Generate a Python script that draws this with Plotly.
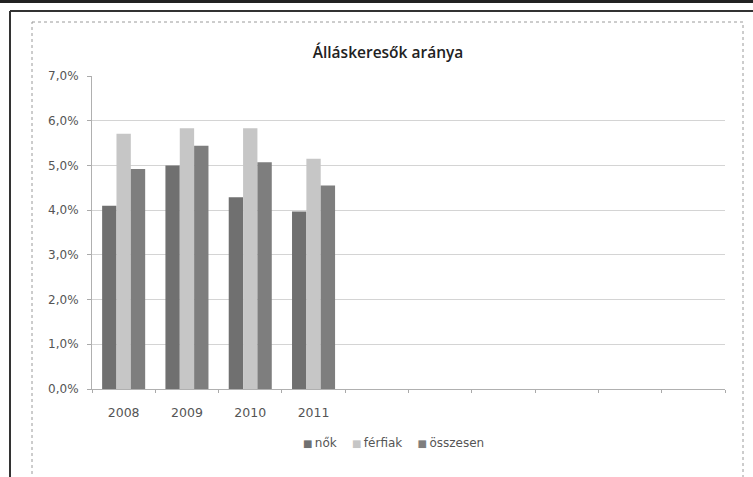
import plotly.graph_objects as go

# ---- data ----
years = ["2008", "2009", "2010", "2011"]
empty_slots = [" " * (i + 1) for i in range(6)]   # unused category slots on the axis
categories = years + empty_slots
nok = [0.0410, 0.0500, 0.0429, 0.0397]
ferfiak = [0.0571, 0.0583, 0.0583, 0.0515]
osszesen = [0.0492, 0.0544, 0.0507, 0.0455]
series_names = ["nők", "férfiak", "összesen"]
series_colors = ["#707070", "#c6c6c6", "#7e7e7e"]
y_ticks = [0, 0.01, 0.02, 0.03, 0.04, 0.05, 0.06, 0.07]

W, H = 753, 477
L, R, T, B = 92, 725, 76, 389  # plot area in pixels


def px(x):
    return (x - L) / (R - L)


def py(y):
    return (B - y) / (B - T)


fig = go.Figure()
for name, vals, col in zip(series_names, [nok, ferfiak, osszesen], series_colors):
    fig.add_trace(go.Bar(x=years, y=vals, name=name, showlegend=False,
                         marker=dict(color=col, line=dict(width=0))))

# legend as a single text line with small coloured squares
sep = "\u00a0" * 4
legend_text = sep.join(
    f"<span style='color:{c};font-size:10px'>■</span>\u2009{n}"
    for n, c in zip(series_names, series_colors)
)

shapes = [
    # top black rule
    dict(type="line", xref="paper", yref="paper", x0=px(0), x1=px(W), y0=py(1.5), y1=py(1.5),
         line=dict(color="#222222", width=3)),
    # outer frame top + left
    dict(type="line", xref="paper", yref="paper", x0=px(10), x1=px(W), y0=py(11), y1=py(11),
         line=dict(color="#333333", width=2)),
    dict(type="line", xref="paper", yref="paper", x0=px(10), x1=px(10), y0=py(11), y1=py(H),
         line=dict(color="#333333", width=2)),
    # inner dotted chart frame
    dict(type="rect", xref="paper", yref="paper", x0=px(32), x1=px(743), y0=py(22), y1=py(H + 5),
         line=dict(color="#9a9a9a", width=1, dash="dot")),
]

fig.update_layout(
    width=W, height=H,
    margin=dict(l=L, r=W - R, t=T, b=H - B),
    paper_bgcolor="white", plot_bgcolor="white",
    separators=",.",
    barmode="group", bargap=0.32, bargroupgap=0,
    title=dict(text="Álláskeresők aránya", xref="container", x=388 / W, xanchor="center",
               y=1 - 53 / H, yanchor="middle",
               font=dict(family="Open Sans", size=15.5, color="#222222", weight=600)),
    font=dict(family="DejaVu Sans", size=11, color="#555555"),
    xaxis=dict(type="category", categoryorder="array", categoryarray=categories,
               tickmode="array", tickvals=categories, ticktext=categories,
               range=[-0.5, len(categories) - 0.5],
               tickson="boundaries", ticks="outside", ticklen=3, tickcolor="#aaaaaa",
               showline=True, linecolor="#b0b0b0", linewidth=1, showgrid=False,
               ticklabelstandoff=12, tickfont=dict(family="DejaVu Sans", size=12.5, color="#555555")),
    yaxis=dict(range=[0, 0.07], tickvals=y_ticks, tickformat=".1%",
               ticks="outside", ticklen=4, tickcolor="#aaaaaa",
               showline=True, linecolor="#b0b0b0", linewidth=1,
               showgrid=True, gridcolor="#d4d4d4", gridwidth=1, zeroline=False,
               ticklabelstandoff=6, tickfont=dict(family="DejaVu Sans", size=12, color="#555555")),
    annotations=[dict(text=legend_text, xref="paper", yref="paper", x=px(393), y=py(443),
                      xanchor="center", yanchor="middle", showarrow=False,
                      font=dict(family="DejaVu Sans", size=12, color="#555555"))],
    shapes=shapes,
    showlegend=False,
)

fig.write_html("out.html", config={"displayModeBar": False},
               post_script="document.body.style.margin='0';document.body.style.overflow='hidden';")
